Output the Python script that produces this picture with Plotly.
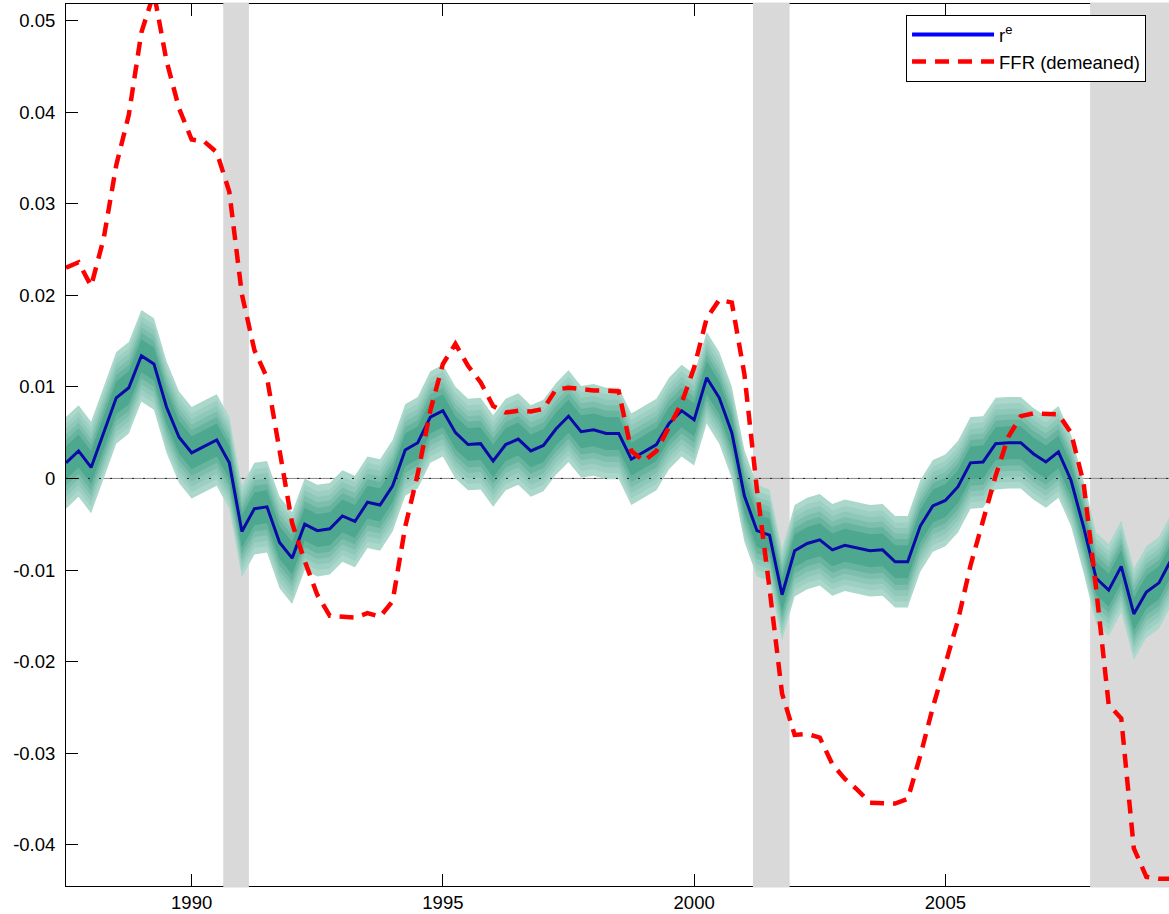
import plotly.graph_objects as go

# Quarterly sample, 1987Q3 .. 2009Q3
quarters = [1987.5 + 0.25 * i for i in range(89)]

# Natural-rate estimate r^e (posterior median)
r_e = [
    0.0017, 0.0030, 0.0012, 0.0050, 0.0088, 0.0099, 0.0134, 0.0125, 0.0078, 0.0045,
    0.0028, 0.0035, 0.0042, 0.0017, -0.0058, -0.0033, -0.0031, -0.0070, -0.0087, -0.0050,
    -0.0057, -0.0055, -0.0041, -0.0047, -0.0026, -0.0029, -0.0008, 0.0031, 0.0039, 0.0067,
    0.0074, 0.0050, 0.0037, 0.0038, 0.0019, 0.0037, 0.0043, 0.0030, 0.0036, 0.0054,
    0.0068, 0.0051, 0.0053, 0.0049, 0.0049, 0.0021, 0.0029, 0.0037, 0.0060, 0.0074,
    0.0064, 0.0110, 0.0088, 0.0050, -0.0019, -0.0057, -0.0062, -0.0127, -0.0079, -0.0071,
    -0.0067, -0.0078, -0.0073, -0.0076, -0.0079, -0.0078, -0.0091, -0.0091, -0.0052, -0.0030,
    -0.0024, -0.0009, 0.0017, 0.0018, 0.0038, 0.0039, 0.0039, 0.0027, 0.0018, 0.0029,
    -0.0002, -0.0053, -0.0109, -0.0122, -0.0096, -0.0148, -0.0124, -0.0114, -0.0088,
]

# Federal funds rate, demeaned
ffr = [
    0.0230, 0.0236, 0.0210, 0.0262, 0.0342, 0.0397, 0.0487, 0.0530, 0.0456, 0.0404,
    0.0370, 0.0368, 0.0356, 0.0313, 0.0201, 0.0140, 0.0110, 0.0030, -0.0049, -0.0090,
    -0.0127, -0.0150, -0.0151, -0.0152, -0.0147, -0.0151, -0.0134, -0.0053, 0.0005, 0.0074,
    0.0125, 0.0147, 0.0123, 0.0105, 0.0079, 0.0072, 0.0074, 0.0073, 0.0076, 0.0097,
    0.0099, 0.0097, 0.0096, 0.0096, 0.0095, 0.0030, 0.0019, 0.0030, 0.0056, 0.0082,
    0.0121, 0.0175, 0.0195, 0.0192, 0.0114, -0.0012, -0.0120, -0.0235, -0.0280, -0.0279,
    -0.0283, -0.0312, -0.0328, -0.0340, -0.0354, -0.0355, -0.0355, -0.0350, -0.0303, -0.0250,
    -0.0202, -0.0155, -0.0095, -0.0047, 0.0003, 0.0045, 0.0068, 0.0071, 0.0071, 0.0070,
    0.0050, -0.0005, -0.0120, -0.0247, -0.0262, -0.0404, -0.0435, -0.0437, -0.0437,
]

# Half-widths of the posterior fan (outer to inner) and their shades
band_half_widths = [0.0050, 0.0043, 0.0037, 0.0031, 0.0025, 0.0018]
band_colors = ["#abd8cb", "#9dd0c2", "#8ec8b8", "#7dbfac", "#68b59f", "#4ea890"]

# NBER recession periods
recessions = [(1990.63, 1991.14), (2001.17, 2001.90), (2007.88, 2010.0)]

y_ticks = [-0.04, -0.03, -0.02, -0.01, 0.0, 0.01, 0.02, 0.03, 0.04, 0.05]
y_tick_labels = ["-0.04", "-0.03", "-0.02", "-0.01", "0", "0.01", "0.02", "0.03", "0.04", "0.05"]
x_ticks = [1990, 1995, 2000, 2005]
x_tick_labels = ["1990", "1995", "2000", "2005"]

X_RANGE = [1987.5, 2009.45]
Y_RANGE = [-0.0445, 0.0518]
FONT = "Liberation Sans, Arial, sans-serif"
FS = 18.5

fig = go.Figure()

# zero reference line (solid grey underneath the fan)
fig.add_trace(go.Scatter(
    x=[quarters[0], quarters[-1]], y=[0, 0], mode="lines",
    line=dict(color="#8a8a8a", width=1), showlegend=False, hoverinfo="skip",
))

# fan bands, widest first
for hw, col in zip(band_half_widths, band_colors):
    upper = [v + hw for v in r_e]
    lower = [v - hw for v in r_e]
    fig.add_trace(go.Scatter(
        x=quarters + quarters[::-1], y=upper + lower[::-1],
        fill="toself", fillcolor=col, mode="lines", line=dict(width=0),
        showlegend=False, hoverinfo="skip",
    ))

# dotted zero line on top of the fan
fig.add_trace(go.Scatter(
    x=[quarters[0], quarters[-1]], y=[0, 0], mode="lines",
    line=dict(color="#222222", width=1, dash="2px,9px"), showlegend=False, hoverinfo="skip",
))

fig.add_trace(go.Scatter(
    x=quarters, y=r_e, mode="lines", line=dict(color="#0a0aa8", width=3),
    showlegend=False,
))
fig.add_trace(go.Scatter(
    x=quarters, y=ffr, mode="lines", line=dict(color="#ff0000", width=4.5, dash="14px,9px"),
    showlegend=False,
))

# legend entries
fig.add_trace(go.Scatter(
    x=[None], y=[None], mode="lines", name="r<sup>e</sup>",
    line=dict(color="#0000ff", width=4),
))
fig.add_trace(go.Scatter(
    x=[None], y=[None], mode="lines", name="FFR (demeaned)",
    line=dict(color="#ff0000", width=4.5, dash="14px,9px"),
))

shapes = []
for a, b in recessions:
    shapes.append(dict(type="rect", xref="x", yref="paper", x0=a, x1=b, y0=0, y1=1,
                       fillcolor="#d9d9d9", line=dict(width=0), layer="below"))
    # grey also runs over the frame lines at the bottom and top
    shapes.append(dict(type="rect", xref="x", yref="paper", x0=a, x1=b,
                       ysizemode="pixel", yanchor=0, y0=-1.5, y1=3,
                       fillcolor="#d9d9d9", line=dict(width=0), layer="above"))
    shapes.append(dict(type="rect", xref="x", yref="paper", x0=a, x1=b,
                       ysizemode="pixel", yanchor=1, y0=-3, y1=1.5,
                       fillcolor="#d9d9d9", line=dict(width=0), layer="above"))

fig.update_layout(
    width=1169, height=914,
    margin=dict(l=66, r=0, t=4, b=28, pad=0),
    paper_bgcolor="white", plot_bgcolor="white",
    font=dict(family=FONT, size=FS, color="black"),
    shapes=shapes,
    showlegend=True,
    legend=dict(
        x=0.7616, y=0.9875, xanchor="left", yanchor="top",
        bgcolor="white", bordercolor="black", borderwidth=1,
        font=dict(family=FONT, size=FS, color="black"),
        itemwidth=82, tracegroupgap=0,
    ),
    xaxis=dict(
        range=X_RANGE, tickvals=x_ticks, ticktext=x_tick_labels,
        ticks="inside", ticklen=12, tickcolor="black", tickwidth=1,
        showline=True, linecolor="black", linewidth=1, mirror="ticks",
        showgrid=False, zeroline=False,
        tickfont=dict(family=FONT, size=FS, color="black"),
    ),
    yaxis=dict(
        range=Y_RANGE, tickvals=y_ticks, ticktext=y_tick_labels,
        ticks="inside", ticklen=12, tickcolor="black", tickwidth=1,
        showline=True, linecolor="black", linewidth=1, mirror=False,
        showgrid=False, zeroline=False, ticklabelstandoff=6,
        tickfont=dict(family=FONT, size=FS, color="black"),
    ),
)

fig.write_html("out.html")
